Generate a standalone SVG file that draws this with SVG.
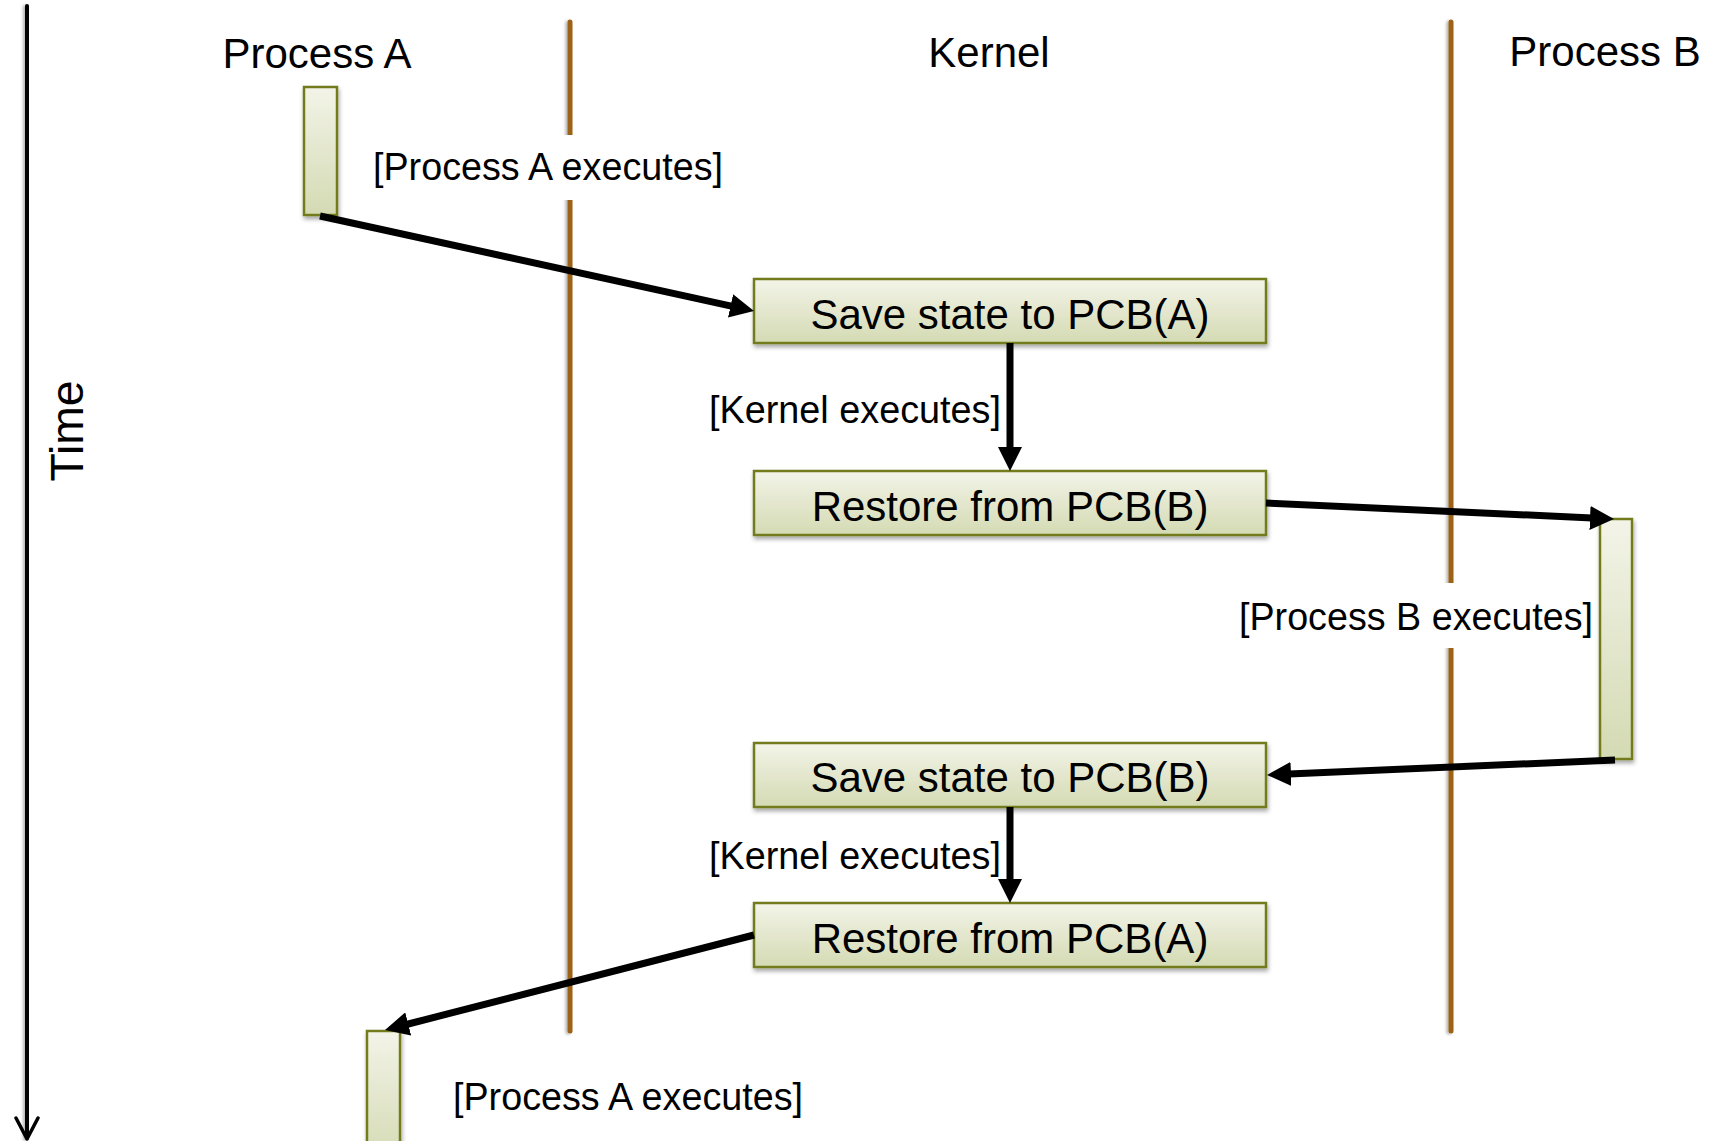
<svg xmlns="http://www.w3.org/2000/svg" width="1711" height="1141" viewBox="0 0 1711 1141">
  <defs>
    <linearGradient id="boxFill" x1="0" y1="0" x2="0" y2="1">
      <stop offset="0" stop-color="#F3F4E8"/>
      <stop offset="1" stop-color="#D4DAB3"/>
    </linearGradient>
    <filter id="shadow" x="-20%" y="-20%" width="140%" height="160%">
      <feDropShadow dx="1" dy="3" stdDeviation="2" flood-color="#000" flood-opacity="0.35"/>
    </filter>
    <filter id="lineShadow" filterUnits="userSpaceOnUse" x="0" y="0" width="1711" height="1141">
      <feDropShadow dx="-2" dy="1" stdDeviation="1.5" flood-color="#000" flood-opacity="0.3"/>
    </filter>
    <marker id="head" markerUnits="userSpaceOnUse" markerWidth="24" markerHeight="24" refX="2" refY="12" orient="auto">
      <path d="M0,0 L24,12 L0,24 z" fill="#000"/>
    </marker>
  </defs>
  <style>
    text { font-family: "Liberation Sans", Arial, sans-serif; fill: #000; }
    .head { font-size: 42px; text-anchor: middle; }
    .box { fill: url(#boxFill); stroke: #737C1C; stroke-width: 2.5; filter: url(#shadow); }
    .boxText { font-size: 42px; text-anchor: middle; }
    .label { font-size: 39px; }
    .lifeline { stroke: #9C6418; stroke-width: 5; stroke-linecap: round; filter: url(#lineShadow); }
    .flow { stroke: #000; stroke-width: 7; fill: none; marker-end: url(#head); }
    .labelBg { fill: #fff; }
  </style>

  <!-- time axis -->
  <g id="time-axis">
    <line x1="27" y1="6" x2="27" y2="1138" stroke="#000" stroke-width="4" stroke-linecap="round" filter="url(#lineShadow)"/>
    <path d="M16,1118 L27,1139 L38,1118" fill="none" stroke="#000" stroke-width="3.5" stroke-linecap="round" stroke-linejoin="round"/>
    <text transform="translate(83,431) rotate(-90)" font-size="47" text-anchor="middle" textLength="101" lengthAdjust="spacingAndGlyphs">Time</text>
  </g>

  <!-- swimlane dividers -->
  <g id="lifelines">
    <line class="lifeline" x1="570" y1="22" x2="570" y2="1031"/>
    <line class="lifeline" x1="1451" y1="22" x2="1451" y2="1031"/>
  </g>

  <!-- column headings -->
  <g id="headings">
    <text class="head" x="317" y="68">Process A</text>
    <text class="head" x="989" y="67">Kernel</text>
    <text class="head" x="1605" y="66">Process B</text>
  </g>

  <!-- execution labels, each on a white patch that breaks the divider -->
  <g id="label-a1">
    <rect class="labelBg" x="366" y="135" width="364" height="65"/>
    <text class="label" x="373" y="180" textLength="350" lengthAdjust="spacingAndGlyphs">[Process A executes]</text>
  </g>
  <g id="label-k1">
    <text class="label" x="709" y="423" textLength="292" lengthAdjust="spacingAndGlyphs">[Kernel executes]</text>
  </g>
  <g id="label-b">
    <rect class="labelBg" x="1233" y="583" width="364" height="65"/>
    <text class="label" x="1239" y="630" textLength="354" lengthAdjust="spacingAndGlyphs">[Process B executes]</text>
  </g>
  <g id="label-k2">
    <text class="label" x="709" y="869" textLength="292" lengthAdjust="spacingAndGlyphs">[Kernel executes]</text>
  </g>
  <g id="label-a2">
    <text class="label" x="453" y="1110" textLength="350" lengthAdjust="spacingAndGlyphs">[Process A executes]</text>
  </g>

  <!-- activation bars -->
  <g id="proc-a-run1"><rect class="box" x="304" y="87" width="33" height="128"/></g>
  <g id="proc-b-run"><rect class="box" x="1600" y="519" width="32" height="240"/></g>
  <g id="proc-a-run2"><rect class="box" x="367" y="1031" width="33" height="130"/></g>

  <!-- kernel steps -->
  <g id="save-a">
    <rect class="box" x="754" y="279" width="512" height="64"/>
    <text class="boxText" x="1010" y="329">Save state to PCB(A)</text>
  </g>
  <g id="restore-b">
    <rect class="box" x="754" y="471" width="512" height="64"/>
    <text class="boxText" x="1010" y="521">Restore from PCB(B)</text>
  </g>
  <g id="save-b">
    <rect class="box" x="754" y="743" width="512" height="64"/>
    <text class="boxText" x="1010" y="792">Save state to PCB(B)</text>
  </g>
  <g id="restore-a">
    <rect class="box" x="754" y="903" width="512" height="64"/>
    <text class="boxText" x="1010" y="953">Restore from PCB(A)</text>
  </g>

  <!-- control transfers -->
  <g id="connectors">
    <path class="flow" d="M320,216 L732.5,306.3"/>
    <path class="flow" d="M1010,343 L1010,449"/>
    <path class="flow" d="M1266,503 L1592,518"/>
    <path class="flow" d="M1615,760 L1289,774"/>
    <path class="flow" d="M1010,807 L1010,881"/>
    <path class="flow" d="M754,935 L406.3,1024.5"/>
  </g>
</svg>
